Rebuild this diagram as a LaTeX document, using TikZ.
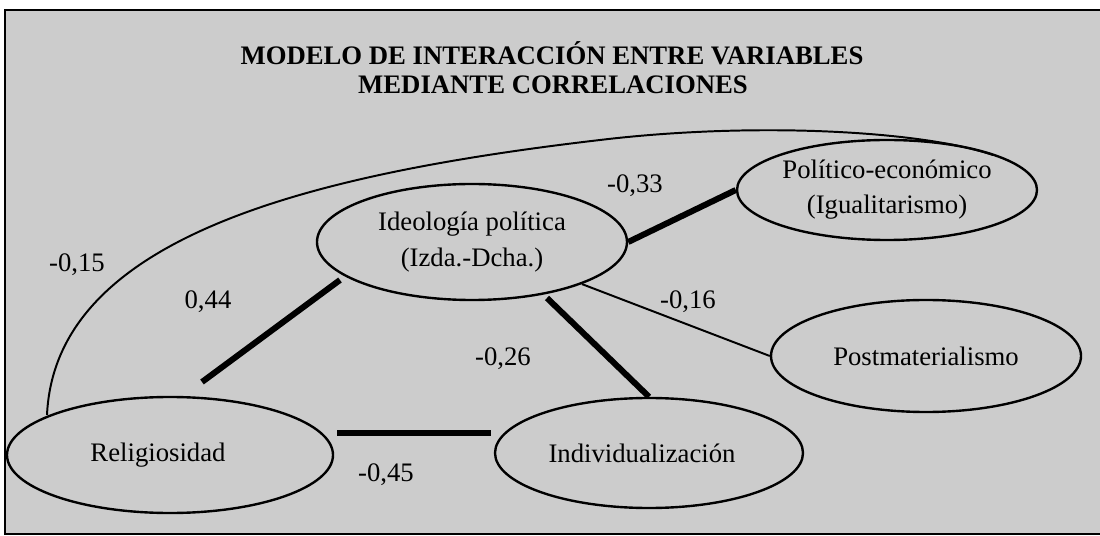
\documentclass[tikz,border=0pt]{standalone}
\usepackage{fontspec}
\setmainfont{Liberation Serif}
\usetikzlibrary{shapes.geometric}
\begin{document}
\begin{tikzpicture}[x=0.25mm,y=-0.25mm,
  var/.style={ellipse,draw=black,line width=1.7pt,inner sep=0pt,align=center,font=\fontsize{19}{25}\selectfont},
  lab/.style={inner sep=0pt,font=\fontsize{19}{23}\selectfont},
  ttl/.style={inner sep=0pt,font=\bfseries\fontsize{19}{23}\selectfont},
  thinlink/.style={line width=1.4pt},
  thicklink/.style={line width=4.3pt},
]
\useasboundingbox (0,0) rectangle (1100,536);
\fill[white] (0,0) rectangle (1100,536);
\fill[black!20] (5,10) rectangle (1100,534);
\draw[line width=1.5pt] (1100,10) -- (5,10) -- (5,534) -- (1100,534);

\node[ttl] (t1) at (552,53) {MODELO DE INTERACCIÓN ENTRE VARIABLES};
\node[ttl] (t2) at (553,85) {MEDIANTE CORRELACIONES};

\node[var,minimum width=77.5mm,minimum height=29mm] (ideo) at (472,242) {Ideología política\\(Izda.-Dcha.)};
\node[var,minimum width=75mm,minimum height=25mm] (polit) at (887,190) {Político-económico\\(Igualitarismo)};
\node[var,minimum width=77.5mm,minimum height=28mm] (postm) at (926,356) {Postmaterialismo};
\node[var,minimum width=81.5mm,minimum height=29mm] (relig) at (170,455) {\hspace*{-6mm}Religiosidad};
\node[var,minimum width=77mm,minimum height=27.5mm] (indiv) at (649,453) {\hspace*{-3.5mm}Individualización};

\coordinate (a44) at (202,382);
\coordinate (b44) at (340,280);
\coordinate (a26) at (547,298);
\coordinate (a45) at (337,433);
\coordinate (b45) at (491,433);
\coordinate (a15) at (47,415);
\coordinate (m15) at (600,140);
\coordinate (b15) at (993,155);

\draw[thicklink] (a44) -- (b44);
\draw[thicklink] (a26) -- (indiv.north);
\draw[thicklink] (ideo.east) -- (polit.west);
\draw[thinlink] (ideo) -- (postm.west);
\draw[thicklink] (a45) -- (b45);
\draw[thinlink] (a15) .. controls (55,240) and (300,175) .. (m15)
  .. controls (750,122) and (919,130) .. (b15);

\node[lab] (l15) at (77,265) {-0,15};
\node[lab] (l44) at (208,302) {0,44};
\node[lab] (l33) at (635,186) {-0,33};
\node[lab] (l16) at (688,302) {-0,16};
\node[lab] (l26) at (503,359) {-0,26};
\node[lab] (l45) at (386,475) {-0,45};
\end{tikzpicture}
\end{document}
